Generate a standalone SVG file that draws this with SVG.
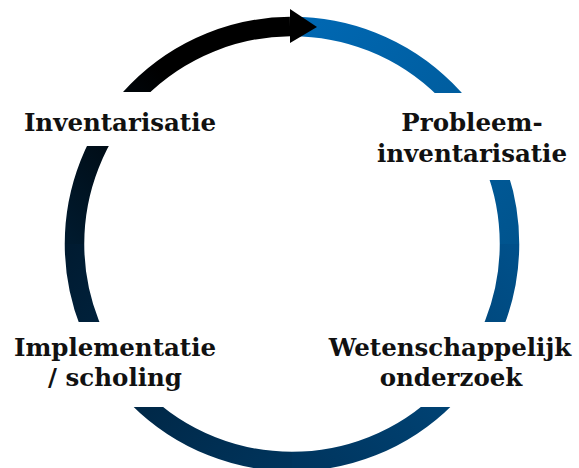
<svg xmlns="http://www.w3.org/2000/svg" width="579" height="468" viewBox="0 0 579 468">
<defs>
<linearGradient id="g1" gradientUnits="userSpaceOnUse" x1="292" y1="26" x2="510" y2="244"><stop offset="0" stop-color="#0068b3"/><stop offset="1" stop-color="#00548e"/></linearGradient>
<linearGradient id="g2" gradientUnits="userSpaceOnUse" x1="510" y1="244" x2="292" y2="462"><stop offset="0" stop-color="#00508a"/><stop offset="1" stop-color="#00355e"/></linearGradient>
<linearGradient id="g3" gradientUnits="userSpaceOnUse" x1="292" y1="462" x2="74" y2="244"><stop offset="0" stop-color="#00345c"/><stop offset="1" stop-color="#001b31"/></linearGradient>
<linearGradient id="g4" gradientUnits="userSpaceOnUse" x1="74" y1="244" x2="292" y2="26"><stop offset="0" stop-color="#001a2e"/><stop offset="0.6" stop-color="#000000"/><stop offset="1" stop-color="#000000"/></linearGradient>
<style>
.ring{fill:none;stroke-width:19.5}
.lbl{font-family:"DejaVu Serif",serif;font-weight:bold;font-size:24.5px;fill:#111;text-anchor:middle}
.bg{fill:#fff}
</style>
</defs>
<g id="connectors">
<path class="ring" stroke="url(#g1)" d="M292,26.5 A217.5,217.5 0 0 1 509.5,244"/>
<path class="ring" stroke="url(#g2)" d="M509.5,244 A217.5,217.5 0 0 1 292,461.5"/>
<path class="ring" stroke="url(#g3)" d="M292,461.5 A217.5,217.5 0 0 1 74.5,244"/>
<path class="ring" stroke="url(#g4)" d="M74.5,244 A217.5,217.5 0 0 1 290,26.5"/>
<polygon points="290,9 317,27 290,43" fill="#000"/>
</g>
<g id="n1">
<rect class="bg" x="0" y="92" width="260" height="54"/>
<text class="lbl" x="120" y="131">Inventarisatie</text>
</g>
<g id="n2">
<rect class="bg" x="340" y="93" width="239" height="87"/>
<text class="lbl" x="472" y="131">Probleem-</text>
<text class="lbl" x="472" y="162">inventarisatie</text>
</g>
<g id="n3">
<rect class="bg" x="320" y="322" width="259" height="85"/>
<text class="lbl" x="450" y="356">Wetenschappelijk</text>
<text class="lbl" x="451" y="386">onderzoek</text>
</g>
<g id="n4">
<rect class="bg" x="0" y="322" width="260" height="85"/>
<text class="lbl" x="115" y="356">Implementatie</text>
<text class="lbl" x="115" y="386">/ scholing</text>
</g>
</svg>
